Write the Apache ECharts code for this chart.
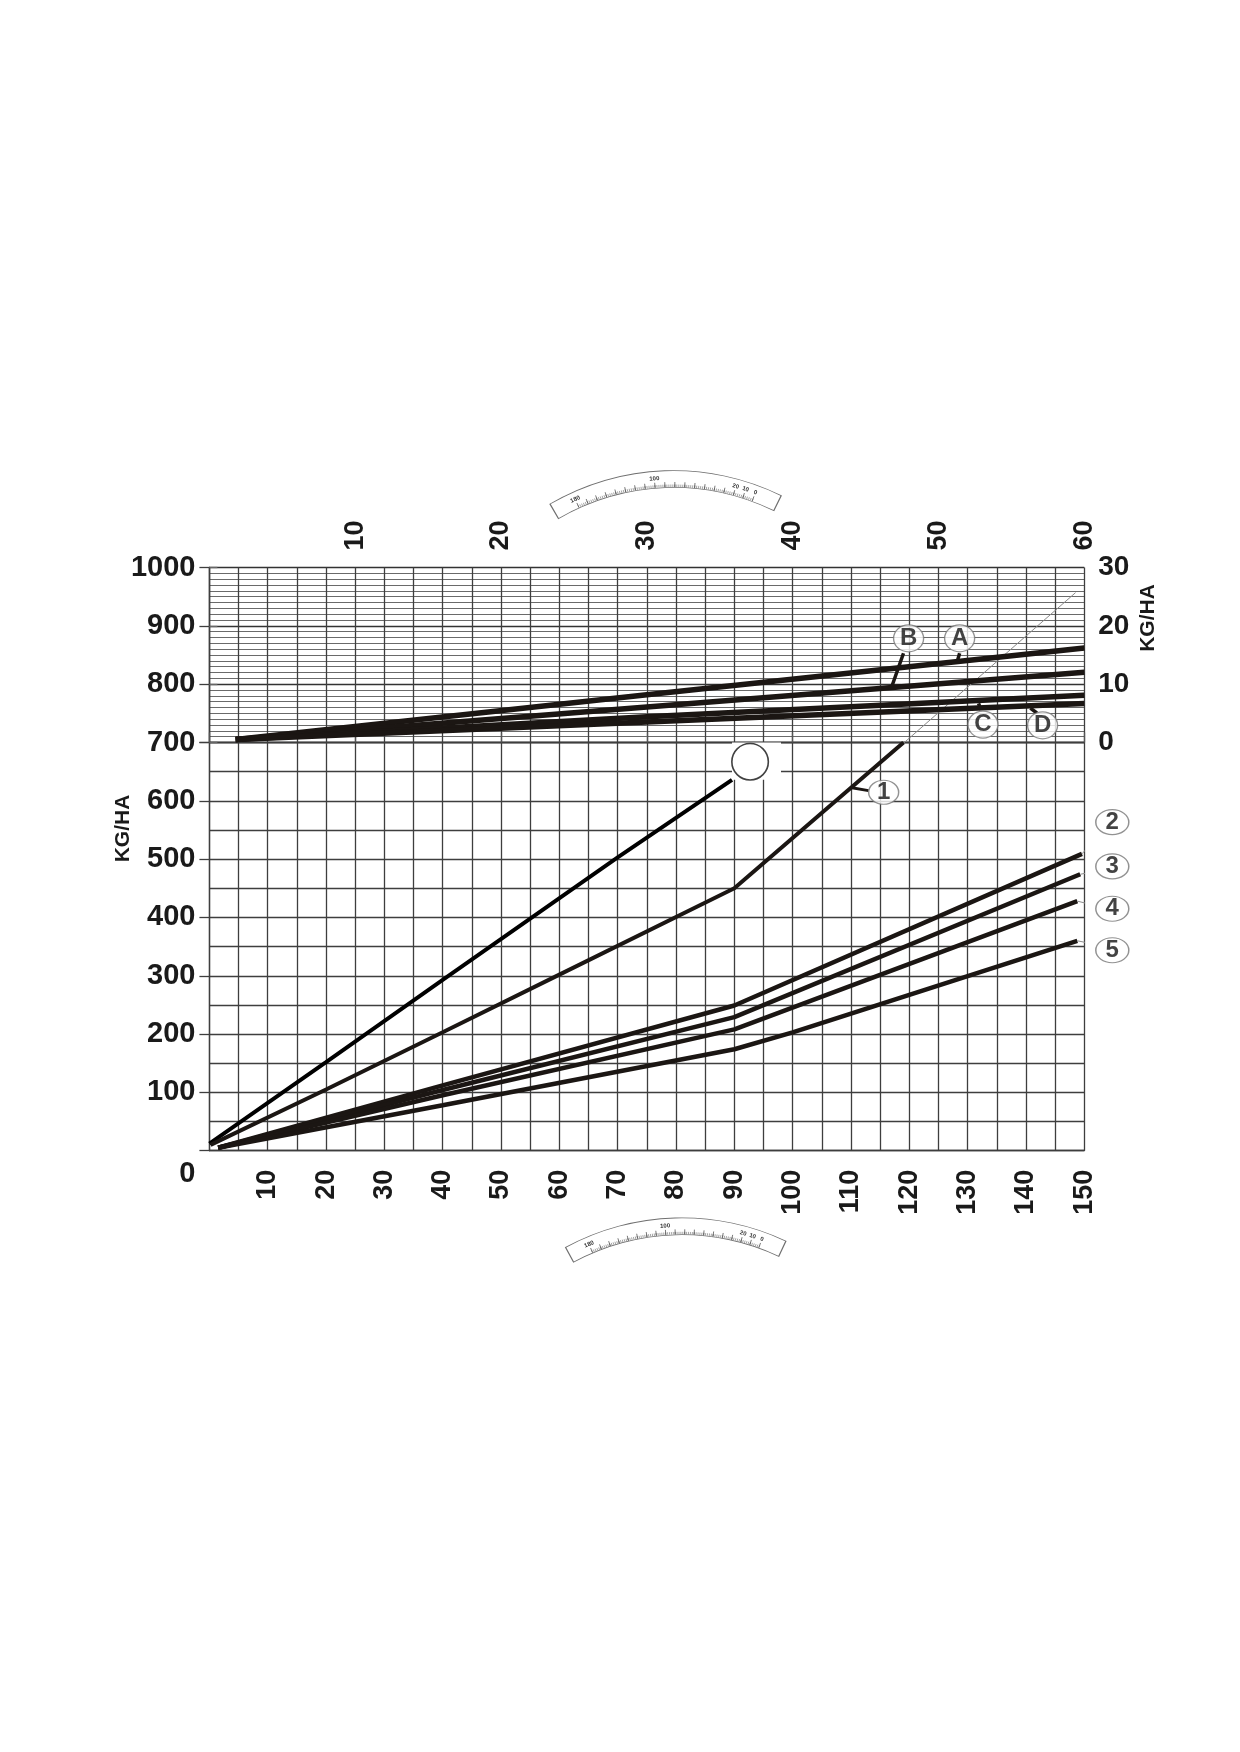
<!DOCTYPE html>
<html><head><meta charset="utf-8">
<script src="https://cdn.jsdelivr.net/npm/echarts@6/dist/echarts.min.js"></script>
<style>html,body{margin:0;padding:0;background:#fff}#c{width:1240px;height:1752px}</style>
</head><body><div id="c"></div>
<script>
const FONT = "'Liberation Sans', Arial, sans-serif";
const INK = '#1b1613';

// ---- lower chart (bottom axis 0-150, left axis KG/HA 0-1000) ----
const lineBlack = [[0,12],[20,152],[40,293],[70,503],[89.6,636]];
const line1 = [[0.2,10],[20,105],[40,203],[60,302],[90,450],[119,700]];
const line1Ext = [[118,690],[148.5,957]];
const line2 = [[1.5,5],[40,112],[90,249],[149.6,509]];
const line3 = [[1.5,5],[40,104],[90,229],[149.3,474]];
const line4 = [[1.5,5],[40,95],[90,208],[148.8,428]];
const line5 = [[1.5,5],[40,78],[90,174],[100,203],[148.8,360]];
const dialMark = [[92.7,667]];
const dialBlank = [[89.6,636],[98,700]];

const numNames = ['1','2','3','4','5'];
const numX = [115.6,154.8,154.8,154.8,154.8];
const numY = [614.7,563.4,487.5,415,343.7];
const numLeaders = [
  [[109.9,623],[113,617.5]],
  [[149.6,509],[152.7,543.5]],
  [[149.3,474],[152.7,480.7]],
  [[148.8,428],[152.7,418.3]],
  [[148.8,360],[152.7,352]]
];

// ---- upper chart (top axis 0-60, right axis KG/HA 0-30) ----
const lineA = [[1.8,0.5],[30,8.2],[60,16.2]];
const lineB = [[1.8,0.5],[30,6.1],[60,12.05]];
const lineC = [[1.8,0.5],[30,4.4],[60,8.1]];
const lineD = [[1.8,0.5],[30,3.5],[60,6.7]];
const letterNames = ['A','B','C','D'];
const letterX = [51.45,47.95,53.05,57.14];
const letterY = [17.85,17.85,3.07,2.95];
const letterLeaders = [
  [[51.45,15.3],[51.3,14.0]],
  [[47.6,15.3],[46.8,9.6]],
  [[52.9,5.6],[52.75,6.7]],
  [[56.75,5.06],[56.3,5.9]]
];

// ---- dial scales ----
const dialMin = 0, dialMax = 180;
const dialLabels = [0,10,20,100,180];

const chart = echarts.init(document.getElementById('c'));
const GRID_L = 209.4, GRID_R = 155.7;
const lab = {fontFamily: FONT, fontWeight: 'bold', color: '#1a1a1a'};

function ln(data, width, color, xi, yi, z, extra) {
  return Object.assign({type:'line', data, xAxisIndex:xi, yAxisIndex:yi, symbol:'none', clip:false,
    silent:true, z: z || 3, lineStyle:{width, color, cap:'butt'}}, extra || {});
}

const series = [
  ln(line1Ext, 1, '#8a8a8a', 0, 0, 2),
  ln(lineBlack, 4, '#000', 0, 0, 3),
  ln(line1, 4, INK, 0, 0, 3),
  ln(line2, 4.5, INK, 0, 0, 3),
  ln(line3, 4.5, INK, 0, 0, 3),
  ln(line4, 4.5, INK, 0, 0, 3),
  ln(line5, 4.5, INK, 0, 0, 3),
  ln(lineA, 5.5, INK, 1, 2, 3),
  ln(lineB, 5.5, INK, 1, 2, 3),
  ln(lineC, 5.5, INK, 1, 2, 3),
  ln(lineD, 5.5, INK, 1, 2, 3)
];
numLeaders.forEach((d, i) => series.push(ln(d, i === 0 ? 3 : 1, i === 0 ? INK : '#8a8a8a', 0, 0, 4)));
letterLeaders.forEach(d => series.push(ln(d, 3.5, INK, 1, 2, 4)));

series.push({
  type:'scatter', xAxisIndex:0, yAxisIndex:0, clip:false, silent:true, z:6,
  data: dialMark, symbol:'circle', symbolSize:36.5,
  itemStyle:{color:'#fff', borderColor:'#111', borderWidth:1.6},
  markArea:{silent:true, itemStyle:{color:'#fff', opacity:1},
    data:[[{coord:dialBlank[0]},{coord:dialBlank[1]}]]}
});
series.push({
  type:'scatter', xAxisIndex:0, yAxisIndex:0, clip:false, silent:true, z:6,
  symbol:'circle',
  data: numNames.map((n,i) => ({name:n, value:[numX[i], numY[i]], symbolSize: i === 0 ? [30,24] : [33,25]})),
  itemStyle:{color:'#fff', borderColor:'#777', borderWidth:1.3},
  label:{show:true, position:'inside', formatter:'{b}', fontSize:24, fontWeight:'bold', fontFamily:FONT, color:'#141414'}
});
series.push({
  type:'scatter', xAxisIndex:1, yAxisIndex:2, clip:false, silent:true, z:6,
  symbol:'circle',
  data: letterNames.map((n,i) => ({name:n, value:[letterX[i], letterY[i]]})),
  symbolSize:[30,27],
  itemStyle:{color:'#fff', borderColor:'#777', borderWidth:1.3},
  label:{show:true, position:'inside', formatter:'{b}', fontSize:24, fontWeight:'bold', fontFamily:FONT, color:'#141414'}
});

function dial(cx, cy, R, bandStart, bandEnd, zeroAngle, maxAngle) {
  const w = 16, rIn = R - w;
  const base = {type:'gauge', center:[cx, cy], min:0, max:1, pointer:{show:false}, detail:{show:false},
    title:{show:false}, splitLine:{show:false}, axisTick:{show:false}, axisLabel:{show:false}, data:[], silent:true, z:1};
  return [
    Object.assign({}, base, {radius:R + 0.8, startAngle:bandStart + 0.3, endAngle:bandEnd - 0.3,
      axisLine:{lineStyle:{width:w + 1.6, color:[[1,'#707070']]}}}),
    Object.assign({}, base, {radius:R, startAngle:bandStart, endAngle:bandEnd,
      axisLine:{lineStyle:{width:w, color:[[1,'#ffffff']]}}}),
    {type:'gauge', center:[cx, cy], radius:rIn + 5, min:dialMin, max:dialMax, splitNumber:18,
      startAngle:zeroAngle, endAngle:maxAngle, clockwise:false, silent:true, z:2,
      pointer:{show:false}, detail:{show:false}, title:{show:false}, data:[],
      axisLine:{show:false, lineStyle:{width:0}},
      splitLine:{show:true, length:5, distance:0, lineStyle:{color:'#555', width:0.8}},
      axisTick:{show:true, splitNumber:5, length:2.5, distance:2.5, lineStyle:{color:'#666', width:0.6}},
      axisLabel:{show:true, distance:-9, rotate:'tangential', fontSize:6, fontWeight:'bold', fontFamily:FONT, color:'#333',
        formatter: v => dialLabels.includes(Math.round(v)) ? String(Math.round(v)) : ''}}
  ];
}
series.push(...dial(673.5, 715, 244, 120.2, 64, 69.8, 114.5));
series.push(...dial(682, 1462.3, 244, 118.3, 65, 70.3, 113.1));

const gridLine = {color:'#3e3e3e', width:1.3};

chart.setOption({
  animation:false,
  backgroundColor:'#fff',
  grid:[
    {left:GRID_L, right:GRID_R, top:742.5, height:408.2},
    {left:GRID_L, right:GRID_R, top:567.5, height:175}
  ],
  xAxis:[
    {type:'value', gridIndex:0, min:0, max:150, interval:10, position:'bottom',
      axisLine:{show:true, lineStyle:gridLine}, axisTick:{show:false},
      axisLabel:Object.assign({rotate:90, margin:19, fontSize:27, formatter: v => v === 0 ? '' : String(v)}, lab),
      splitLine:{show:true, lineStyle:gridLine},
      minorTick:{show:false, splitNumber:2}, minorSplitLine:{show:true, lineStyle:gridLine}},
    {type:'value', gridIndex:1, min:0, max:60, interval:10, position:'top',
      axisLine:{show:true, lineStyle:gridLine},
      axisTick:{show:true, inside:false, length:10, lineStyle:{color:'#555', width:1.3}},
      axisLabel:Object.assign({rotate:90, margin:17, fontSize:27, formatter: v => v === 0 ? '' : String(v)}, lab),
      splitLine:{show:false}},
    {type:'value', gridIndex:1, min:0, max:150, interval:5, position:'bottom',
      axisLine:{show:false}, axisTick:{show:false}, axisLabel:{show:false},
      splitLine:{show:true, lineStyle:gridLine}}
  ],
  yAxis:[
    {type:'value', gridIndex:0, min:0, max:700, interval:100, position:'left',
      axisLine:{show:true, lineStyle:gridLine},
      axisTick:{show:true, inside:false, length:10, lineStyle:gridLine},
      axisLabel:Object.assign({margin:14, fontSize:29,
        formatter: v => v === 0 ? '{z|0}' : String(v),
        rich:{z:{padding:[46,0,0,0], fontSize:29, fontWeight:'bold', fontFamily:FONT, color:'#1a1a1a'}}}, lab),
      splitLine:{show:true, lineStyle:gridLine},
      minorTick:{show:false, splitNumber:2}, minorSplitLine:{show:true, lineStyle:gridLine}},
    {type:'value', gridIndex:1, min:700, max:1000, interval:100, position:'left',
      axisLine:{show:true, lineStyle:gridLine},
      axisTick:{show:true, inside:false, length:10, lineStyle:gridLine},
      axisLabel:Object.assign({margin:14, fontSize:29, formatter: v => v === 700 ? '' : String(v)}, lab),
      splitLine:{show:true, lineStyle:{color:'#333', width:1.4}}},
    {type:'value', gridIndex:1, min:0, max:30, interval:10, position:'right',
      axisLine:{show:true, lineStyle:gridLine},
      axisTick:{show:true, inside:false, length:8, lineStyle:{color:'#666', width:1.3}},
      axisLabel:Object.assign({margin:14, fontSize:28}, lab),
      splitLine:{show:false},
      minorTick:{show:false, splitNumber:10}, minorSplitLine:{show:true, lineStyle:{color:'#6a6a6a', width:1}}}
  ],
  graphic:[
    {type:'text', x:123, y:828.5, rotation:Math.PI/2, silent:true,
      style:{text:'KG/HA', font:'bold 21px ' + FONT, fill:'#1a1a1a', align:'center', verticalAlign:'middle'}},
    {type:'text', x:1148, y:618, rotation:Math.PI/2, silent:true,
      style:{text:'KG/HA', font:'bold 21px ' + FONT, fill:'#1a1a1a', align:'center', verticalAlign:'middle'}}
  ],
  series
});
</script></body></html>
